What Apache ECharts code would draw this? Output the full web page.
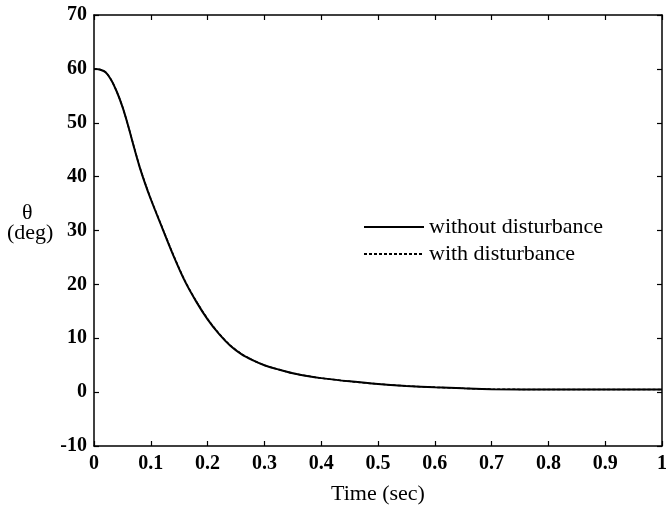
<!DOCTYPE html>
<html>
<head>
<meta charset="utf-8">
<script src="https://cdn.jsdelivr.net/npm/echarts@6/dist/echarts.min.js"></script>
<style>html,body{margin:0;padding:0;background:#fff}#c{width:670px;height:510px}</style>
</head>
<body>
<div id="c"></div>
<script>
var timeSec = [0,0.01,0.02,0.03,0.04,0.05,0.06,0.07,0.08,0.09,0.10,0.12,0.14,0.16,0.18,0.20,0.22,0.24,0.26,0.28,0.30,0.325,0.35,0.375,0.40,0.45,0.50,0.55,0.60,0.65,0.70,0.80,0.90,1.0];
var thetaWithout = [60,59.9,59.4,58.0,55.8,53.0,49.5,45.6,41.9,38.7,35.8,30.5,25.3,20.6,16.8,13.5,10.8,8.6,7.0,5.9,5.0,4.2,3.5,3.0,2.6,2.0,1.5,1.15,0.9,0.7,0.55,0.5,0.5,0.5];
var thetaWith = [60,59.9,59.4,58.0,55.8,53.0,49.5,45.7,42.0,38.8,35.9,30.6,25.4,20.7,16.9,13.6,10.9,8.7,7.1,5.9,5.0,4.2,3.5,3.0,2.6,2.0,1.5,1.15,0.9,0.7,0.55,0.5,0.5,0.5];
var seriesNames = ['without disturbance','with disturbance'];
var yLabel = ['\u03b8','(deg)'];
var xLabel = 'Time (sec)';

function pairs(xs, ys){ return xs.map(function(x,i){ return [x, ys[i]]; }); }

var font = 'Liberation Serif';
var axisCommon = {
  axisLine:{show:true, onZero:false, lineStyle:{color:'#000', width:1.5}},
  axisTick:{show:true, inside:true, length:5, lineStyle:{color:'#000', width:1.2}},
  splitLine:{show:false}
};
var chart = echarts.init(document.getElementById('c'), null, {renderer:'canvas'});
chart.setOption({
  animation:false,
  backgroundColor:'#fff',
  grid:{left:94, right:1, top:15, bottom:58, show:false},
  legend:{
    orient:'vertical', left:358, top:211,
    itemWidth:60, itemHeight:14, itemGap:5, itemTextGap:14,
    itemStyle:{opacity:0},
    textStyle:{fontFamily:font, fontSize:22, color:'#000'},
    data:seriesNames
  },
  xAxis:[Object.assign({
    type:'value', min:0, max:1, interval:0.1, position:'bottom',
    name:xLabel, nameLocation:'middle', nameGap:37,
    nameTextStyle:{fontFamily:font, fontSize:22, color:'#000'},
    axisLabel:{fontFamily:font, fontSize:20, fontWeight:'bold', color:'#000', margin:8,
      formatter:function(v){ return (Math.round(v*10)/10).toString(); }}
  }, axisCommon), Object.assign({
    type:'value', min:0, max:1, interval:0.1, position:'top',
    axisLabel:{show:false}
  }, axisCommon)],
  yAxis:[Object.assign({
    type:'value', min:-10, max:70, interval:10, position:'left',
    axisLabel:{fontFamily:font, fontSize:20, fontWeight:'bold', color:'#000', margin:7}
  }, axisCommon), Object.assign({
    type:'value', min:-10, max:70, interval:10, position:'right',
    axisLabel:{show:false}
  }, axisCommon)],
  graphic:[
    {type:'text', left:22, top:202, style:{text:yLabel[0], font:'22px "Liberation Serif"', fill:'#000'}},
    {type:'text', left:7, top:222, style:{text:yLabel[1], font:'22px "Liberation Serif"', fill:'#000'}}
  ],
  series:[
    {name:seriesNames[0], type:'line', xAxisIndex:0, yAxisIndex:0, symbol:'none', smooth:0.3,
     lineStyle:{color:'#000', width:2}, itemStyle:{color:'#000'}, data:pairs(timeSec, thetaWithout)},
    {name:seriesNames[1], type:'line', xAxisIndex:0, yAxisIndex:0, symbol:'none', smooth:0.3,
     lineStyle:{color:'#000', width:1.5, type:[3,2]}, itemStyle:{color:'#000'}, data:pairs(timeSec, thetaWith)}
  ]
});
</script>
</body>
</html>
